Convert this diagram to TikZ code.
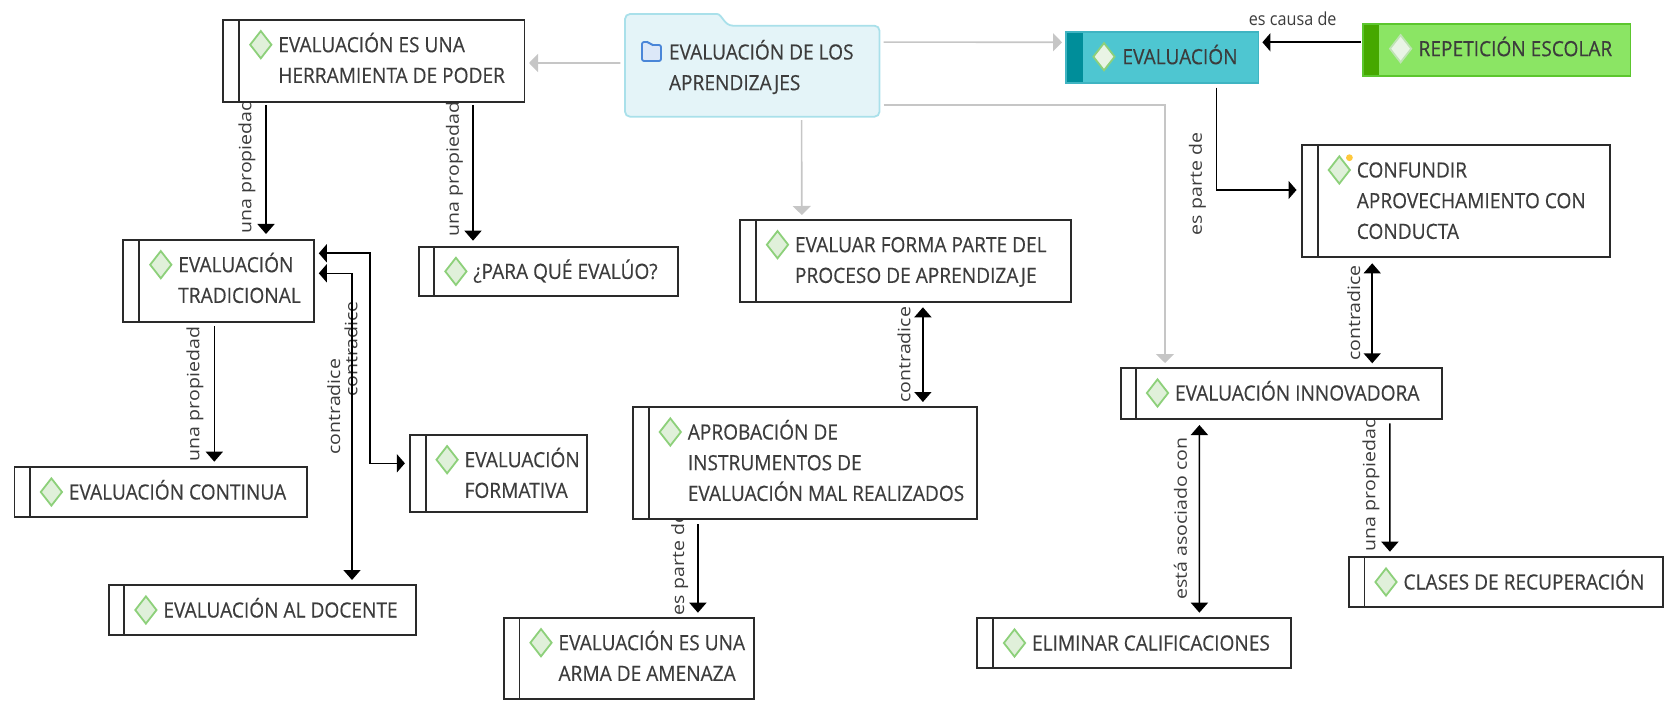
\documentclass[tikz,border=0pt]{standalone}
\usepackage{fontspec}
\setmainfont{Open Sans}
\newfontfamily\boxfam[FakeStretch=0.91,FakeBold=0.35]{Open Sans}
\newfontfamily\relfam[FakeStretch=1.15]{Open Sans}
\newfontfamily\capfam[FakeStretch=0.9]{Open Sans}
\usetikzlibrary{arrows.meta,shapes.geometric}
\pgfdeclarelayer{background}
\pgfsetlayers{background,main}
\definecolor{txt}{HTML}{3C3C3C}
\definecolor{edge}{HTML}{2A2A2A}
\definecolor{gline}{HTML}{C6C6C6}
\definecolor{dfill}{HTML}{E0F0DA}
\definecolor{dline}{HTML}{8DD07A}
\definecolor{repfill}{HTML}{8BE564}
\definecolor{repbar}{HTML}{46A800}
\definecolor{repedge}{HTML}{5CC62E}
\definecolor{evfill}{HTML}{4EC6D1}
\definecolor{evbar}{HTML}{008E9A}
\definecolor{evedge}{HTML}{3FB4C2}
\definecolor{foldfill}{HTML}{E4F4F8}
\definecolor{foldedge}{HTML}{A9E0EA}
\definecolor{iconline}{HTML}{4A86D8}
\definecolor{iconfill}{HTML}{DCE8F8}
\definecolor{dotcol}{HTML}{FFC83C}
\tikzset{
  boxfont/.style={font=\boxfam\fontsize{21}{30.7}\selectfont,text=txt},
  conceptbox/.style={draw=edge,line width=1.9pt,fill=white,inner sep=0pt,outer sep=0pt},
  boxdiv/.style={draw=edge,line width=1.9pt},
  gem/.style={shape=diamond,aspect=0.786,minimum width=22pt,minimum height=28pt,inner sep=0pt,draw=dline,fill=dfill,line width=1.8pt},
  boxtext/.style={boxfont,anchor=north west,inner sep=0pt,outer sep=0pt,align=left},
  rel/.style={line width=1.6pt,draw=black},
  vhead/.style={-{Triangle[length=10pt,width=17pt]}},
  vboth/.style={{Triangle[length=10pt,width=17pt]}-{Triangle[length=10pt,width=17pt]}},
  hhead/.style={-{Triangle[length=8pt,width=18pt]}},
  grey/.style={line width=1.6pt,draw=gline},
  greyhead/.style={-{Triangle[length=9pt,width=18pt]},gline},
  vlabel/.style={rotate=90,font=\relfam\fontsize{17}{20}\selectfont,text=txt,inner sep=0pt},
  hlabel/.style={font=\capfam\fontsize{18}{20}\selectfont,text=txt,inner sep=0pt},
}
% #1 style  #2 name  #3 L  #4 T  #5 R  #6 B  #7 divider x  #8 text
\newcommand\cbox[8][]{%
  \pgfmathsetmacro\bcx{(#3+#5)/2}%
  \pgfmathsetmacro\bcy{(#4+#6)/2}%
  \pgfmathsetmacro\bw{#5-#3}%
  \pgfmathsetmacro\bh{#6-#4}%
  \pgfmathsetmacro\bd{#7-#3}%
  \pgfmathsetmacro\gx{#7-#3+21.5}%
  \pgfmathsetmacro\tx{#7-#3+39}%
  \node[conceptbox,minimum width=\bw pt,minimum height=\bh pt,#1] (#2) at (\bcx,\bcy) {};
  \draw[boxdiv,#1] ([xshift=\bd pt]#2.north west) -- ([xshift=\bd pt]#2.south west);
  \node[gem,#1] (#2-gem) at ([xshift=\gx pt,yshift=-24.7pt]#2.north west) {};
  \node[boxtext,#1] (#2-txt) at ([xshift=\tx pt,yshift=-12.2pt]#2.north west) {\rule{0pt}{20pt}#8};
}
\begin{document}
\begin{tikzpicture}[x=1pt,y=-1pt]
\useasboundingbox (0,0) rectangle (1669,703);

% folder
\node[inner sep=0pt,minimum width=254.5pt,minimum height=102.7pt] (root) at (752.25,65.35) {};
\draw[draw=foldedge,fill=foldfill,line width=1.8pt,rounded corners=5pt]
  (625,116.7) -- (625,14) -- (712,14) .. controls (722,14) and (724,25.7) .. (738,25.7)
  -- (879.5,25.7) -- (879.5,116.7) -- cycle;
\draw[draw=iconline,fill=iconfill,line width=1.8pt,rounded corners=2pt]
  (642,61) -- (642,42) -- (649,42) -- (651,45) -- (661,45) -- (661,61) -- cycle;
\node[boxtext] (root-txt) at (669,39.5) {\rule{0pt}{20pt}EVALUACIÓN DE LOS\\APRENDIZAJES};

% concepts
\cbox{herr}{223.2}{20}{524.5}{101.7}{239.3}{EVALUACIÓN ES UNA\\HERRAMIENTA DE PODER}
\cbox{para}{418.8}{246.7}{677.7}{296}{434.4}{¿PARA QUÉ EVALÚO?}
\cbox{trad}{123}{240}{313.8}{321.7}{139.3}{EVALUACIÓN\\TRADICIONAL}
\cbox{cont}{14.5}{467.3}{307.3}{517}{29.9}{EVALUACIÓN CONTINUA}
\cbox{form}{410}{435}{586.7}{512.3}{425.6}{EVALUACIÓN\\FORMATIVA}
\cbox{doce}{108.7}{585.3}{416.4}{635}{124.4}{EVALUACIÓN AL DOCENTE}
\cbox{evar}{740}{220}{1070.8}{301.7}{756}{EVALUAR FORMA PARTE DEL\\PROCESO DE APRENDIZAJE}
\cbox{apro}{633}{407.3}{977}{519.3}{648.8}{APROBACIÓN DE\\INSTRUMENTOS DE\\EVALUACIÓN MAL REALIZADOS}
\cbox{amen}{503.7}{618}{754}{699}{519.5}{EVALUACIÓN ES UNA\\ARMA DE AMENAZA}
\cbox{conf}{1301.6}{145.3}{1610}{257.3}{1317.8}{CONFUNDIR\\APROVECHAMIENTO CON\\CONDUCTA}
\cbox{inno}{1120.6}{368.3}{1442.4}{419.3}{1136}{EVALUACIÓN INNOVADORA}
\cbox{clas}{1348.7}{557.3}{1663}{606.7}{1364.5}{CLASES DE RECUPERACIÓN}
\cbox{elim}{977}{618.3}{1291}{667.7}{993}{ELIMINAR CALIFICACIONES}
\fill[dotcol] ([xshift=47.8pt,yshift=-12.4pt]conf.north west) circle (3.4pt);

% coloured concepts
\node[conceptbox,draw=evedge,fill=evfill,minimum width=192.5pt,minimum height=51pt] (eval) at (1162.25,57.5) {};
\fill[evbar] ([shift={(1pt,-1pt)}]eval.north west) rectangle ([xshift=17pt,yshift=1pt]eval.south west);
\node[gem,fill=dfill!70!white] (eval-gem) at ([xshift=38pt,yshift=-24.7pt]eval.north west) {};
\node[boxtext] (eval-txt) at ([xshift=56.4pt,yshift=-12.2pt]eval.north west) {\rule{0pt}{20pt}EVALUACIÓN};

\node[conceptbox,draw=repedge,fill=repfill,minimum width=267.9pt,minimum height=52pt] (repe) at (1496.55,50) {};
\fill[repbar] ([shift={(1pt,-1pt)}]repe.north west) rectangle ([xshift=16.2pt,yshift=1pt]repe.south west);
\node[gem,draw=dfill!60!dline,fill=dfill!70!white] (repe-gem) at ([xshift=38pt,yshift=-24.7pt]repe.north west) {};
\node[boxtext] (repe-txt) at ([xshift=56pt,yshift=-12.2pt]repe.north west) {\rule{0pt}{20pt}REPETICIÓN ESCOLAR};

% grey connectors
\draw[grey,greyhead] ([xshift=-4.5pt,yshift=2.35pt]root.west) -- ([xshift=4.5pt,yshift=-2.15pt]herr.east);
\draw[grey,greyhead] ([xshift=4pt,yshift=-28.3pt]root.north east) -- ([xshift=-4pt,yshift=-10.3pt]eval.north west);
\draw[grey,greyhead] ([xshift=4pt,yshift=11.7pt]root.south east) -| ([xshift=44.4pt,yshift=5.3pt]inno.north west);
\draw[grey,greyhead] ([xshift=176.8pt,yshift=-3.3pt]root.south west) -- ([xshift=61.8pt,yshift=5pt]evar.north west);

% black connectors
\draw[rel,vhead] ([xshift=42.8pt,yshift=-3.3pt]herr.south west) -- ([xshift=143pt,yshift=6pt]trad.north west);
\draw[rel,vhead] ([xshift=249.8pt,yshift=-3.3pt]herr.south west) -- ([xshift=54.2pt,yshift=6pt]para.north west);
\draw[rel,vhead] ([xshift=91.3pt,yshift=-4.3pt]trad.south west) -- ([xshift=199.8pt,yshift=5.6pt]cont.north west);
\draw[rel,hhead,line width=2pt] ([xshift=-2pt,yshift=-18.3pt]repe.north west) -- ([xshift=3.9pt,yshift=-10.3pt]eval.north east);
\draw[rel,hhead] ([xshift=-42.2pt,yshift=-4.7pt]eval.south east) |- ([xshift=-5.1pt,yshift=-44.7pt]conf.north west);
\draw[rel,vboth] ([xshift=70.6pt,yshift=-6pt]conf.south west) -- ([xshift=251.6pt,yshift=5pt]inno.north west);
\draw[rel,vhead] ([xshift=269.3pt,yshift=-4pt]inno.south west) -- ([xshift=41.2pt,yshift=5.6pt]clas.north west);
\draw[rel,vboth] ([xshift=78.8pt,yshift=-5.7pt]inno.south west) -- ([xshift=222.4pt,yshift=5.6pt]elim.north west);
\draw[rel,vboth] ([xshift=182.9pt,yshift=-5.6pt]evar.south west) -- ([xshift=289.9pt,yshift=5.3pt]apro.north west);
\draw[rel,vhead] ([xshift=64.9pt,yshift=-4.7pt]apro.south west) -- ([xshift=194.2pt,yshift=5.3pt]amen.north west);
\draw[rel,{Triangle[length=8pt,width=18pt]}-{Triangle[length=8pt,width=18pt]}] ([xshift=5pt,yshift=-13.3pt]trad.north east) -- ++(50.9,0) |- ([xshift=-5.1pt,yshift=-28.3pt]form.north west);
\draw[rel,{Triangle[length=8pt,width=18pt]}-{Triangle[length=10pt,width=17pt]}] ([xshift=5pt,yshift=-33.3pt]trad.north east) -| ([xshift=243.3pt,yshift=5.3pt]doce.north west);

% link labels, behind the boxes so that these cut them off
\begin{pgfonlayer}{background}
\node[vlabel] (l1) at (247,166.5) {una propiedad};
\node[vlabel] (l2) at (454.5,169) {una propiedad};
\node[vlabel] (l3) at (195,394) {una propiedad};
\node[vlabel] (l4) at (679.7,564) {es parte de};
\node[vlabel] (l5) at (1370.9,484) {una propiedad};
\node[vlabel] (l6) at (1197.5,184) {es parte de};
\node[vlabel] (l7) at (1353.7,313) {contradice};
\node[vlabel] (l8) at (903.9,354.7) {contradice};
\node[vlabel] (l9) at (333.7,406.7) {contradice};
\node[vlabel] (l10) at (351,349) {contradice};
\node[vlabel] (l11) at (1180.4,518.7) {está asociado con};
\node[hlabel] (l12) at (1292.7,19) {es causa de};
\end{pgfonlayer}
\end{tikzpicture}
\end{document}
